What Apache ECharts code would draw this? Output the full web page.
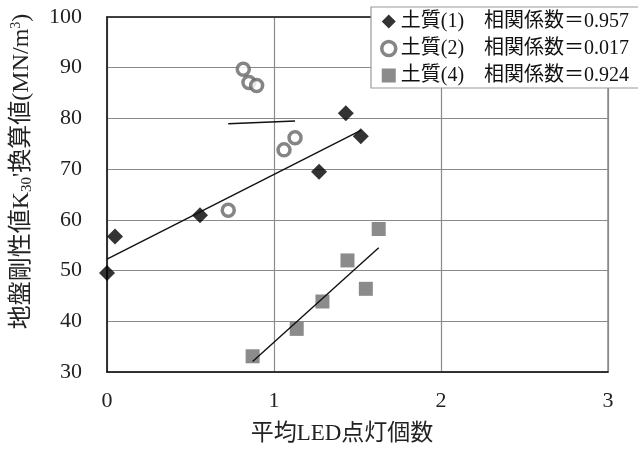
<!DOCTYPE html>
<html>
<head>
<meta charset="utf-8">
<script src="https://cdn.jsdelivr.net/npm/echarts@6/dist/echarts.min.js"></script>
<style>
  html, body { margin: 0; padding: 0; background: #fff; }
  #chart { width: 638px; height: 450px; }
</style>
</head>
<body>
<div id="chart"></div>
<script>
// Soil groups: average number of lit LEDs vs. converted subgrade stiffness K30
const seriesNames = ['土質(1)', '土質(2)', '土質(4)'];
const corrLabels = ['0.957', '0.017', '0.924'];

const soil1X = [0.00, 0.048, 0.557, 1.27, 1.43, 1.52];
const soil1Y = [49.5, 56.7, 60.9, 69.5, 81.0, 76.5];

const soil2X = [0.726, 0.816, 0.85, 0.896, 1.06, 1.126];
const soil2Y = [61.9, 89.7, 87.1, 86.5, 73.8, 76.2];

const soil4X = [0.872, 1.136, 1.29, 1.44, 1.55, 1.627];
const soil4Y = [33.1, 38.5, 43.9, 52.0, 46.4, 58.2];

const xTicks = [0, 1, 2, 3];
const yTicks = [30, 40, 50, 60, 70, 80, 90, 100];

const serif = "'Liberation Serif', 'Noto Sans CJK JP', serif";

function zip(xs, ys) { return xs.map((x, i) => [x, ys[i]]); }

// least-squares line spanning the x range of a group
function fitLine(xs, ys) {
  const n = xs.length;
  const mx = xs.reduce((a, b) => a + b, 0) / n;
  const my = ys.reduce((a, b) => a + b, 0) / n;
  let sxy = 0, sxx = 0;
  for (let i = 0; i < n; i++) {
    sxy += (xs[i] - mx) * (ys[i] - my);
    sxx += (xs[i] - mx) * (xs[i] - mx);
  }
  const k = sxy / sxx, b = my - k * mx;
  const x0 = Math.min(...xs), x1 = Math.max(...xs);
  return [[x0, k * x0 + b], [x1, k * x1 + b]];
}

function trend(xs, ys) {
  return {
    type: 'line', data: fitLine(xs, ys), symbol: 'none', silent: true,
    lineStyle: { color: '#111', width: 1.4 }, z: 5
  };
}

const chart = echarts.init(document.getElementById('chart'), null, { renderer: 'canvas' });

chart.setOption({
  animation: false,
  backgroundColor: '#fff',
  grid: {
    left: 107, top: 17, right: 30, bottom: 75,
    show: true, borderColor: '#8a8a8a', borderWidth: 1.5
  },
  legend: {
    data: [
      { name: seriesNames[0], icon: 'diamond' },
      { name: seriesNames[1], icon: 'circle',
        itemStyle: { color: '#fff', borderColor: '#666', borderWidth: 3.5 } },
      { name: seriesNames[2], icon: 'rect' }
    ],
    orient: 'vertical',
    left: 371, top: 7,
    padding: [4, 15, 2, 9],
    itemGap: 6,
    itemWidth: 14, itemHeight: 14,
    itemSymbolKeepAspect: true,
    backgroundColor: '#fff',
    borderColor: '#9a9a9a', borderWidth: 1.2,
    textStyle: { fontFamily: serif, fontSize: 20, color: '#111', lineHeight: 21 },
    formatter: name => name + '\u3000相関係数＝' + corrLabels[seriesNames.indexOf(name)],
    z: 20
  },
  xAxis: [{
    type: 'value', min: xTicks[0], max: xTicks[xTicks.length - 1], interval: 1,
    axisLine: { lineStyle: { color: '#111', width: 1.5 } },
    axisTick: { show: false },
    splitLine: { lineStyle: { color: '#8a8a8a', width: 1.2 } },
    axisLabel: { fontFamily: serif, fontSize: 22, color: '#222', margin: 18 },
    name: '平均LED点灯個数',
    nameLocation: 'middle',
    nameGap: 50,
    nameTextStyle: { fontFamily: serif, fontSize: 23, color: '#222', padding: [0, 31, 0, 0] }
  }, {
    type: 'value', position: 'top', min: 0, max: 3, interval: 1,
    axisLine: { show: true, onZero: false, lineStyle: { color: '#222', width: 1.5 } },
    axisTick: { show: false }, axisLabel: { show: false }, splitLine: { show: false }
  }],
  yAxis: {
    type: 'value', min: yTicks[0], max: yTicks[yTicks.length - 1], interval: 10,
    axisLine: { show: true, lineStyle: { color: '#111', width: 1.5 } },
    axisTick: { show: false },
    splitLine: { lineStyle: { color: '#8a8a8a', width: 1.2 } },
    axisLabel: { fontFamily: serif, fontSize: 22, color: '#222', margin: 25 },
    name: '{t|地盤剛性値K}{sub|30}{t|\'換算値(MN/m}{sup|3}{t|)}',
    nameLocation: 'middle',
    nameRotate: 90,
    nameGap: 72,
    nameTextStyle: {
      padding: [0, 0, 0, 46],
      rich: {
        t: { fontFamily: serif, fontSize: 24, color: '#222', lineHeight: 26 },
        sub: { fontFamily: serif, fontSize: 15, color: '#222', lineHeight: 15, verticalAlign: 'bottom' },
        sup: { fontFamily: serif, fontSize: 14, color: '#222', lineHeight: 14, verticalAlign: 'top' }
      }
    }
  },
  series: [
    {
      name: seriesNames[0], type: 'scatter', data: zip(soil1X, soil1Y),
      symbol: 'diamond', symbolSize: 16,
      itemStyle: { color: '#000' }, z: 3
    },
    {
      name: seriesNames[1], type: 'scatter', data: zip(soil2X, soil2Y),
      symbol: 'circle', symbolSize: 12,
      itemStyle: { color: '#fff', borderColor: '#666', borderWidth: 3.5 }, z: 3
    },
    {
      name: seriesNames[2], type: 'scatter', data: zip(soil4X, soil4Y),
      symbol: 'rect', symbolSize: 14,
      itemStyle: { color: '#6e6e6e' }, z: 3
    },
    trend(soil1X, soil1Y),
    trend(soil2X, soil2Y),
    trend(soil4X, soil4Y)
  ]
});
</script>
</body>
</html>
